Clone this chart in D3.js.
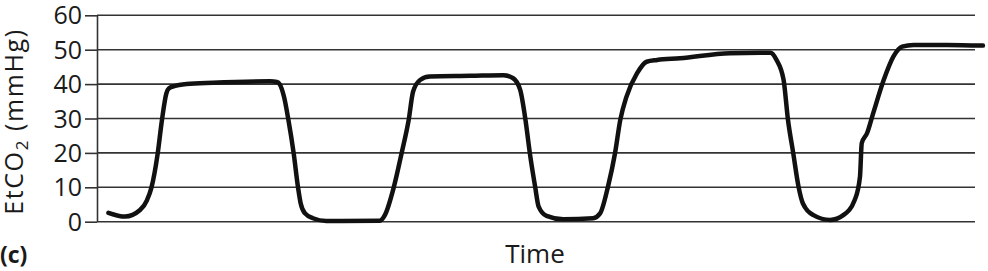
<!DOCTYPE html>
<html>
<head>
<meta charset="utf-8">
<script src="https://cdn.jsdelivr.net/npm/d3@7"></script>
<style>
  html, body { margin: 0; padding: 0; background: #fff; }
  svg { display: block; }
  text { font-family: "Open Sans", "Noto Sans", sans-serif; fill: #1a1a1a; }
</style>
</head>
<body>
<svg id="chart" width="988" height="271"></svg>
<script>
// ---- data (time in arbitrary units, EtCO2 in mmHg) ----
const time = [1.3, 3.2, 4.9, 5.7, 6.2, 6.9, 7.4, 7.9, 8.2, 8.9, 10.2, 13.2, 19.7, 20.5, 20.8, 21.3, 21.8, 22.4, 22.9, 23.2, 23.7, 24.6, 26.1, 32.2, 32.8, 33.8, 34.7, 35.5, 36.0, 36.8, 37.9, 42.5, 46.3, 47.4, 48.2, 48.8, 49.3, 49.9, 50.3, 51.2, 53.1, 56.5, 57.3, 58.2, 59.0, 59.6, 60.3, 61.5, 62.6, 63.8, 66.4, 72.1, 76.7, 77.4, 78.2, 78.7, 79.3, 79.9, 80.4, 81.6, 83.5, 85.0, 86.3, 86.9, 87.1, 87.7, 88.4, 89.6, 90.7, 91.7, 93.0, 96.8, 100.9];
const etco2 = [2.6, 1.5, 3.4, 6.3, 9.9, 19.6, 29.6, 37.3, 38.8, 39.5, 40.0, 40.4, 40.8, 40.6, 40.0, 36.3, 29.6, 19.9, 9.9, 5.3, 2.4, 1.0, 0.2, 0.3, 2.0, 10.0, 20.0, 29.6, 37.8, 41.2, 42.2, 42.4, 42.6, 41.7, 38.3, 29.6, 19.9, 10.2, 4.4, 1.7, 0.7, 1.0, 2.4, 10.2, 19.9, 29.6, 36.3, 43.1, 46.5, 47.0, 47.5, 49.0, 49.1, 47.0, 41.2, 29.6, 19.9, 10.2, 5.3, 1.9, 0.5, 1.9, 6.3, 13.1, 22.8, 25.7, 31.5, 41.2, 48.0, 50.9, 51.4, 51.4, 51.2];
const yTicks = [0, 10, 20, 30, 40, 50, 60];
const yLabel = "EtCO";
const yLabelSub = "2";
const yLabelUnit = " (mmHg)";
const xLabel = "Time";
const panelLabel = "(c)";

// ---- layout ----
const svg = d3.select("#chart");
const axisX = 97, gridRight = 975;
const x = d3.scaleLinear().domain([0, 100]).range([axisX, gridRight]);
const y = d3.scaleLinear().domain([0, 60]).range([221.7, 15.3]);

// gridlines
svg.append("g").selectAll("line").data(yTicks).join("line")
  .attr("x1", axisX).attr("x2", gridRight)
  .attr("y1", d => y(d)).attr("y2", d => y(d))
  .attr("stroke", "#333").attr("stroke-width", 1.6);

// y axis
const yAxis = d3.axisLeft(y).tickValues(yTicks).tickSizeInner(12).tickSizeOuter(0).tickPadding(3);
const gy = svg.append("g").attr("transform", `translate(${axisX},0)`).call(yAxis);
gy.select(".domain").attr("stroke", "#333").attr("stroke-width", 1.6);
gy.selectAll(".tick line").attr("stroke", "#333").attr("stroke-width", 1.6);
gy.selectAll(".tick text")
  .attr("font-family", "'Open Sans', 'Noto Sans', sans-serif")
  .attr("font-size", 25).attr("fill", "#1a1a1a").attr("dy", "0.34em");

// curve
const line = d3.line().x((d, i) => x(time[i])).y(d => y(d)).curve(d3.curveMonotoneX);
svg.append("path").datum(etco2)
  .attr("d", line)
  .attr("fill", "none").attr("stroke", "#111").attr("stroke-width", 4.5)
  .attr("stroke-linejoin", "round").attr("stroke-linecap", "round");

// y label
const yl = svg.append("text")
  .attr("transform", "translate(23,121.5) rotate(-90)")
  .attr("text-anchor", "middle").attr("font-size", 25)
  .attr("letter-spacing", 1.6);
yl.append("tspan").text(yLabel);
yl.append("tspan").attr("font-size", 17).attr("dy", 5).text(yLabelSub);
yl.append("tspan").attr("dy", -5).text(yLabelUnit);

// x label
svg.append("text").attr("x", 535).attr("y", 263).attr("text-anchor", "middle")
  .attr("font-size", 26).text(xLabel);

// panel label
svg.append("text").attr("x", 0).attr("y", 263).attr("font-size", 23)
  .attr("font-weight", "bold").text(panelLabel);
</script>
</body>
</html>
